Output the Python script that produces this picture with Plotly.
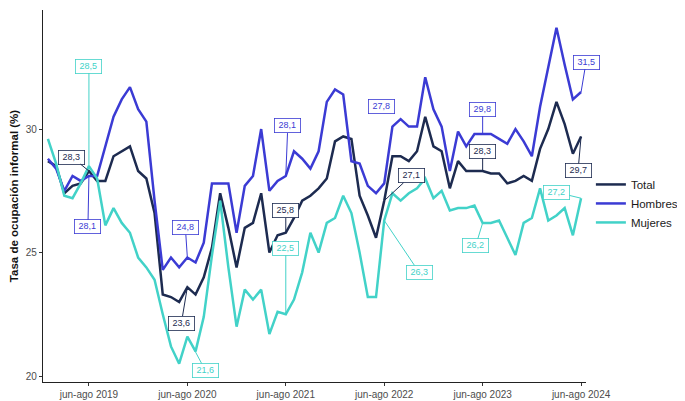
import plotly.graph_objects as go

# ---------------- data ----------------
periods_idx = list(range(66))  # consecutive moving quarters, first = ene-mar 2019, last = jun-ago 2024
tick_idx = [5, 17, 29, 41, 53, 65]
tick_labels = ["jun-ago 2019", "jun-ago 2020", "jun-ago 2021",
               "jun-ago 2022", "jun-ago 2023", "jun-ago 2024"]

total = [28.7, 28.5, 27.4, 27.7, 27.8, 28.3, 27.9, 27.9, 28.9, 29.1,
         29.3, 28.3, 28.0, 26.6, 23.3, 23.2, 23.0, 23.6, 23.3, 24.0,
         25.2, 27.4, 26.0, 24.4, 26.0, 26.2, 27.4, 25.0, 25.7, 25.8,
         26.4, 27.1, 27.3, 27.6, 28.0, 29.5, 29.7, 29.6, 27.3, 26.5,
         25.6, 27.1, 28.9, 28.9, 28.7, 29.1, 30.5, 29.3, 29.1, 27.6,
         28.7, 28.3, 28.3, 28.3, 28.2, 28.2, 27.8, 27.9, 28.1, 27.9,
         29.2, 30.0, 31.1, 30.2, 29.0, 29.7]

hombres = [28.8, 28.4, 27.5, 28.1, 27.9, 28.1, 28.1, 29.3, 30.5, 31.2,
           31.7, 30.8, 30.3, 27.1, 24.3, 24.8, 24.4, 24.8, 24.6, 25.4,
           27.8, 27.8, 27.8, 25.8, 27.7, 28.1, 30.0, 27.5, 27.9, 28.1,
           29.1, 28.8, 28.4, 29.1, 31.1, 31.6, 31.4, 28.7, 28.6, 27.7,
           27.4, 27.8, 30.1, 30.4, 30.1, 30.1, 32.1, 30.8, 30.1, 28.3,
           29.9, 29.3, 29.8, 29.8, 29.8, 29.6, 29.4, 30.0, 29.5, 28.9,
           30.9, 32.5, 34.1, 32.6, 31.2, 31.5]

mujeres = [29.6, 28.6, 27.3, 27.2, 27.8, 28.5, 28.0, 26.1, 26.8, 26.2,
           25.8, 24.8, 24.4, 23.9, 22.5, 21.2, 20.5, 21.6, 21.0, 22.4,
           24.9, 27.1, 24.4, 22.0, 23.5, 23.1, 23.5, 21.7, 22.6, 22.5,
           23.1, 24.2, 25.8, 25.0, 26.2, 26.4, 27.3, 26.6, 25.0, 23.2,
           23.2, 26.3, 27.4, 27.1, 27.4, 27.6, 28.0, 27.2, 27.5, 26.7,
           26.8, 26.8, 26.9, 26.2, 26.2, 26.3, 25.6, 24.9, 26.2, 26.4,
           27.6, 26.3, 26.5, 26.8, 25.7, 27.2]

series_names = ["Total", "Hombres", "Mujeres"]
series_colors = ["#1d2b50", "#3b3bd4", "#42d2c8"]

# label offsets (pixels) for annotated jun-ago points: per series, per tick index
label_offsets = {
    "Total":   [(-17, -14), (-6, 36), (0, -22), (27, -25), (0, -20), (-3, 34)],
    "Hombres": [(-1, 51), (-2, -30), (2, -50), (-3, -77), (0, -25), (5, -30)],
    "Mujeres": [(0, -100), (18, 34), (0, -66), (35, 52), (-7, 23), (-25, -6)],
}
hidden_connector = {("Hombres", 41)}

FONT = "Liberation Sans, Arial, sans-serif"

fig = go.Figure()
data_map = {"Total": total, "Hombres": hombres, "Mujeres": mujeres}
for name, col in zip(series_names, series_colors):
    fig.add_trace(go.Scatter(
        x=periods_idx, y=data_map[name], mode="lines", name=name,
        line=dict(color=col, width=2.5), hoverinfo="skip"))

annotations = []
for name, col in zip(series_names, series_colors):
    vals = data_map[name]
    for k, ti in enumerate(tick_idx):
        ax, ay = label_offsets[name][k]
        v = vals[ti]
        annotations.append(dict(
            x=ti, y=v, xref="x", yref="y",
            text=f"{v:.1f}".replace(".", ","),
            showarrow=True, arrowhead=0, arrowwidth=1,
            arrowcolor=("rgba(0,0,0,0)" if (name, ti) in hidden_connector else col),
            ax=ax, ay=ay, standoff=0, startstandoff=0,
            width=23, height=11,
            font=dict(family=FONT, size=9, color=col),
            bgcolor="white", bordercolor=col, borderwidth=0.8, borderpad=1,
        ))

# the page body has an 8px default margin, so the figure is 8px smaller
fig.update_layout(
    width=677, height=393,
    margin=dict(l=35, r=93, t=2, b=19),
    paper_bgcolor="white", plot_bgcolor="white",
    font=dict(family=FONT, size=10, color="#4d4d4d"),
    showlegend=True,
    legend=dict(x=1.009, xanchor="left", y=0.48, yanchor="middle",
                font=dict(family=FONT, size=11.5, color="#1a1a1a"),
                bgcolor="rgba(0,0,0,0)", borderwidth=0, tracegroupgap=0,
                itemwidth=30),
    annotations=annotations,
)
fig.update_xaxes(
    range=[-0.6, 65.6], tickmode="array", tickvals=tick_idx, ticktext=tick_labels,
    showline=True, linecolor="#222222", linewidth=1.2, mirror=False,
    ticks="outside", ticklen=3, tickcolor="#333333", tickwidth=1,
    showgrid=False, zeroline=False, automargin=False,
    tickfont=dict(family=FONT, size=10, color="#4d4d4d"),
)
fig.update_yaxes(
    range=[19.76, 34.82], tickmode="array", tickvals=[20, 25, 30],
    showline=True, linecolor="#222222", linewidth=1.2,
    ticks="outside", ticklen=3, tickcolor="#333333", tickwidth=1,
    showgrid=False, zeroline=False, automargin=False,
    tickfont=dict(family=FONT, size=10, color="#4d4d4d"),
    title=dict(text="<b>Tasa de ocupación informal (%)</b>",
               font=dict(family=FONT, size=11.5, color="#111111"), standoff=5),
)

fig.write_html("out.html")
